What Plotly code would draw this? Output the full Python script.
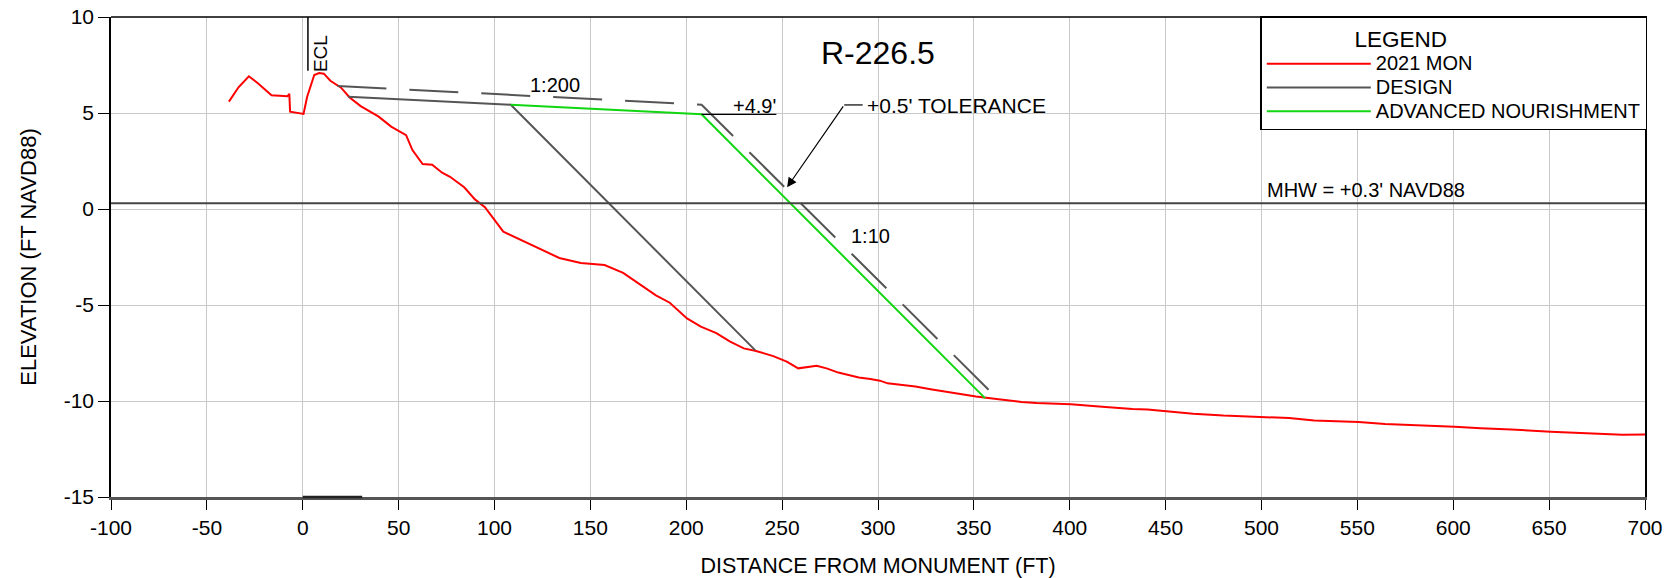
import plotly.graph_objects as go

# ---------------- data ----------------
mon_x = [-38.5, -33.5, -28.1, -23.4, -16.3, -8.0, -7.0, -6.6, 0.4, 2.3, 6.0, 8.5, 11.0,
         14.4, 20.0, 24.3, 30.2, 39.6, 46.1, 53.9, 57.2, 62.5, 67.5, 72.7, 76.8, 84.2,
         89.8, 95.0, 104.6, 120.4, 133.8, 145.0, 157.4, 167.1, 176.1, 184.2, 191.4,
         200.4, 207.6, 215.7, 222.9, 230.0, 235.9, 245.4, 252.4, 258.4, 268.0, 273.2,
         279.3, 290.0, 296.0, 301.0, 305.0, 319.5, 327.4, 340.6, 351.1, 362.9, 374.8,
         382.7, 400.6, 416.9, 432.7, 440.6, 450.7, 464.4, 480.1, 500.7, 514.4, 527.5,
         550.7, 564.4, 580.2, 600.7, 614.4, 630.3, 650.8, 664.5, 688.2, 700.0]
mon_y = [5.59, 6.34, 6.91, 6.55, 5.92, 5.87, 6.00, 5.07, 4.95, 5.85, 6.98, 7.08, 7.05,
         6.68, 6.32, 5.82, 5.36, 4.81, 4.29, 3.85, 3.07, 2.34, 2.30, 1.89, 1.68, 1.13,
         0.50, 0.09, -1.18, -1.90, -2.55, -2.81, -2.92, -3.33, -3.96, -4.50, -4.88,
         -5.70, -6.13, -6.46, -6.91, -7.26, -7.38, -7.66, -7.95, -8.30, -8.16, -8.30,
         -8.52, -8.78, -8.85, -8.94, -9.08, -9.25, -9.39, -9.60, -9.77, -9.91, -10.05,
         -10.10, -10.17, -10.30, -10.42, -10.44, -10.54, -10.66, -10.76, -10.85, -10.89, -11.01,
         -11.09, -11.20, -11.25, -11.34, -11.42, -11.48, -11.60, -11.67, -11.76, -11.74]

design_x = [23.7, 108.5, 235.9]
design_y = [5.85, 5.43, -7.35]

adv_x = [108.5, 208.0, 355.8]
adv_y = [5.43, 4.93, -9.85]

tol_x = [18.1, 208.0, 362.9]
tol_y = [6.41, 5.43, -9.93]

x_ticks = [-100, -50, 0, 50, 100, 150, 200, 250, 300, 350, 400, 450, 500, 550, 600, 650, 700]
y_ticks = [-15, -10, -5, 0, 5, 10]

series_names = ["2021 MON", "DESIGN", "ADVANCED NOURISHMENT"]

MHW = 0.3
ECL_X = 2.7
ECL_TOP = 7.2
BERM_ELEV = 4.93
BERM_X = 208.0
PROFILE_ID = "R-226.5"

FONT = "Arial, Liberation Sans, sans-serif"


def legend_label(name):
    # legend row spacing follows the legend font size; the label itself is drawn at 20px
    return '<span style="font-size:20px">' + name + "</span>"


fig = go.Figure()

fig.add_trace(go.Scatter(x=mon_x, y=mon_y, mode="lines", name=legend_label(series_names[0]),
                         line=dict(color="#ff0000", width=2)))
fig.add_trace(go.Scatter(x=design_x, y=design_y, mode="lines", name=legend_label(series_names[1]),
                         line=dict(color="#555555", width=2)))
fig.add_trace(go.Scatter(x=adv_x, y=adv_y, mode="lines", name=legend_label(series_names[2]),
                         line=dict(color="#11d611", width=2)))
fig.add_trace(go.Scatter(x=tol_x, y=tol_y, mode="lines", name="+0.5' TOLERANCE",
                         showlegend=False,
                         line=dict(color="#555555", width=2, dash="49px,23px")))

shapes = [
    dict(type="line", xref="paper", yref="y", x0=0, x1=1, y0=MHW, y1=MHW,
         line=dict(color="#444444", width=2), layer="above"),
    dict(type="line", xref="x", yref="y", x0=ECL_X, x1=ECL_X, y0=ECL_TOP, y1=10,
         line=dict(color="black", width=1.5)),
    dict(type="line", xref="paper", yref="paper", x0=0, x1=1, y0=1, y1=1,
         line=dict(color="black", width=1.5)),
    dict(type="line", xref="x", yref="y", x0=BERM_X, x1=247, y0=BERM_ELEV, y1=BERM_ELEV,
         line=dict(color="black", width=1.2)),
    dict(type="line", xref="x", yref="y", x0=282.4, x1=292.0, y0=5.42, y1=5.42,
         line=dict(color="black", width=1.2)),
    dict(type="line", xref="x", yref="paper", x0=0, x1=31, y0=0, y1=0,
         line=dict(color="#222222", width=2.5)),
]

annos = [
    dict(x=300, y=8.12, text=PROFILE_ID, showarrow=False, font=dict(size=32, color="black", family=FONT)),
    dict(x=9.4, y=8.11, text="ECL", textangle=-90, showarrow=False,
         font=dict(size=19, color="black", family=FONT)),
    dict(x=131.3, y=6.46, text="1:200", showarrow=False, font=dict(size=20, color="black", family=FONT)),
    dict(x=235.6, y=5.38, text="+4.9'", showarrow=False, font=dict(size=20, color="black", family=FONT)),
    dict(x=296.2, y=-1.38, text="1:10", showarrow=False, font=dict(size=20, color="black", family=FONT)),
    dict(x=293.0, y=5.37, text="+0.5' TOLERANCE", showarrow=False, xanchor="left",
         font=dict(size=21, color="black", family=FONT)),
    dict(x=252.6, y=1.13, ax=282.4, ay=5.42, axref="x", ayref="y", text="", showarrow=True,
         arrowhead=2, arrowsize=1.6, arrowwidth=1.2, arrowcolor="black"),
    dict(x=501.8, y=0.97, text="MHW = +0.3' NAVD88", showarrow=False, xanchor="left",
         font=dict(size=20, color="black", family=FONT)),
]

fig.update_layout(
    width=1672, height=578,
    margin=dict(l=111, r=27, t=17, b=81, autoexpand=False),
    paper_bgcolor="white", plot_bgcolor="white",
    font=dict(family=FONT, color="black", size=21),
    shapes=shapes, annotations=annos,
    legend=dict(x=1.0015, y=1.002, xanchor="right", yanchor="top", bgcolor="white",
                bordercolor="black", borderwidth=1.5, font=dict(size=16, family=FONT),
                itemwidth=104,
                title=dict(text="LEGEND" + "&nbsp;" * 17, side="top center",
                           font=dict(size=22.5, family=FONT))),
    xaxis=dict(range=[-100, 700], tickvals=x_ticks, ticktext=[str(v) for v in x_ticks],
               showgrid=True, gridcolor="#c8c8c8", automargin=False,
               gridwidth=1, zeroline=False, showline=True, linecolor="#555555", linewidth=2.5,
               ticks="outside", ticklen=10, tickcolor="black", tickwidth=1.2,
               tickfont=dict(size=21), title=dict(text="DISTANCE FROM MONUMENT (FT)",
                                                   font=dict(size=21.5), standoff=23)),
    yaxis=dict(range=[-15, 10], tickvals=y_ticks, ticktext=[str(v) for v in y_ticks],
               showgrid=True, gridcolor="#c8c8c8", automargin=False,
               gridwidth=1, zeroline=False, showline=True, linecolor="black", linewidth=1.5,
               mirror=True, ticks="outside", ticklen=11, tickcolor="black", tickwidth=1.2,
               tickfont=dict(size=21), title=dict(text="ELEVATION (FT NAVD88)",
                                                   font=dict(size=22), standoff=21)),
)

fig.write_html("out.html", config={"displayModeBar": False},
               post_script="document.body.style.margin='0';")
